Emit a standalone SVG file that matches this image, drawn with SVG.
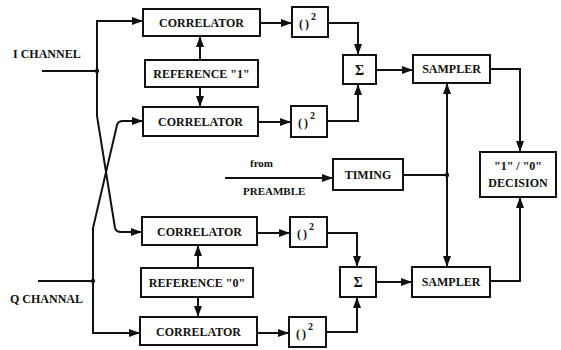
<svg xmlns="http://www.w3.org/2000/svg" width="561" height="350" viewBox="0 0 561 350">
<style>
.box{fill:#fff;stroke:#111;stroke-width:2}
.ln{fill:none;stroke:#111;stroke-width:2}
.arr{marker-end:url(#ah)}
text{font-family:"Liberation Serif","Times New Roman",serif;font-weight:bold;font-size:12px;fill:#111}
.c{text-anchor:middle}
.sm{font-size:11px}
.sq{letter-spacing:2px}
.sup{font-size:10px;letter-spacing:0}
.sig{font-size:14px}
</style>
<defs>
<marker id="ah" viewBox="0 0 11 8" refX="11" refY="4" markerWidth="11" markerHeight="8" orient="auto" markerUnits="userSpaceOnUse"><path d="M0,0 L11,4 L0,8 z" fill="#111"/></marker>
</defs>
<rect width="561" height="350" fill="#fff"/>
<g id="connectors">
<path class="ln" d="M42,71 H97"/>
<path class="ln arr" d="M97,71 V21 H143"/>
<path class="ln arr" d="M97,71 V116 L115,228 Q116,232 121,232 H142"/>
<path class="ln" d="M38,281 H93"/>
<path class="ln arr" d="M93,281 V333 H140"/>
<path class="ln arr" d="M93,281 V228 L117,125 Q118,121 123,121 H143"/>
<path class="ln arr" d="M200,60 V36"/>
<path class="ln arr" d="M200,87 V107"/>
<path class="ln arr" d="M198,268 V245"/>
<path class="ln arr" d="M198,297 V317"/>
<path class="ln arr" d="M260,23 H292"/>
<path class="ln arr" d="M258,122 H291"/>
<path class="ln arr" d="M257,233 H290"/>
<path class="ln arr" d="M257,333 H289"/>
<path class="ln arr" d="M328,23 H358 V55"/>
<path class="ln arr" d="M327,121 H358 V84"/>
<path class="ln arr" d="M327,233 H357 V267"/>
<path class="ln arr" d="M326,332 H357 V297"/>
<path class="ln arr" d="M376,70 H413"/>
<path class="ln arr" d="M376,282 H412"/>
<path class="ln arr" d="M225,178 H333"/>
<path class="ln" d="M403,175 H447"/>
<path class="ln arr" d="M447,175 V83"/>
<path class="ln arr" d="M447,175 V267"/>
<path class="ln arr" d="M490,69 H520 V152"/>
<path class="ln arr" d="M490,281 H520 V197"/>
<circle cx="97" cy="71" r="2.2" fill="#111"/>
<circle cx="93" cy="281" r="2.2" fill="#111"/>
<circle cx="447" cy="175" r="2.2" fill="#111"/>
</g>
<g id="labels">
<text x="13" y="58">I CHANNEL</text>
<text x="10" y="303">Q CHANNAL</text>
<text x="250" y="167" class="sm">from</text>
<text x="243" y="195" class="sm">PREAMBLE</text>
</g>
<g id="corr1"><rect class="box" x="143" y="9" width="117" height="27"/><text class="c" x="201.5" y="27">CORRELATOR</text></g>
<g id="ref1"><rect class="box" x="145" y="60" width="113" height="27"/><text class="c" x="201.5" y="78">REFERENCE "1"</text></g>
<g id="corr2"><rect class="box" x="143" y="107" width="115" height="29"/><text class="c" x="200.5" y="126">CORRELATOR</text></g>
<g id="sq1"><rect class="box" x="292" y="7" width="36" height="30"/><text class="sq" x="299" y="28">()<tspan class="sup" dy="-8">2</tspan></text></g>
<g id="sq2"><rect class="box" x="291" y="106" width="36" height="31"/><text class="sq" x="298" y="127">()<tspan class="sup" dy="-8">2</tspan></text></g>
<g id="sum1"><rect class="box" x="343" y="55" width="33" height="29"/><text class="c sig" x="359.5" y="75">Σ</text></g>
<g id="sampler1"><rect class="box" x="413" y="55" width="77" height="28"/><text class="c" x="451.5" y="73">SAMPLER</text></g>
<g id="timing"><rect class="box" x="333" y="159" width="70" height="31"/><text class="c" x="368" y="179">TIMING</text></g>
<g id="decision"><rect class="box" x="480" y="152" width="76" height="45"/><text class="c" x="518" y="170">"1" / "0"</text><text class="c" x="518" y="187">DECISION</text></g>
<g id="corr3"><rect class="box" x="142" y="217" width="115" height="28"/><text class="c" x="199.5" y="236">CORRELATOR</text></g>
<g id="ref0"><rect class="box" x="141" y="268" width="112" height="29"/><text class="c" x="197" y="287">REFERENCE "0"</text></g>
<g id="corr4"><rect class="box" x="140" y="317" width="117" height="28"/><text class="c" x="198.5" y="336">CORRELATOR</text></g>
<g id="sq3"><rect class="box" x="290" y="217" width="37" height="30"/><text class="sq" x="297" y="238">()<tspan class="sup" dy="-8">2</tspan></text></g>
<g id="sq4"><rect class="box" x="289" y="317" width="37" height="30"/><text class="sq" x="296" y="338">()<tspan class="sup" dy="-8">2</tspan></text></g>
<g id="sum2"><rect class="box" x="340" y="267" width="36" height="30"/><text class="c sig" x="358" y="287">Σ</text></g>
<g id="sampler2"><rect class="box" x="412" y="267" width="78" height="30"/><text class="c" x="451" y="286">SAMPLER</text></g>
</svg>
